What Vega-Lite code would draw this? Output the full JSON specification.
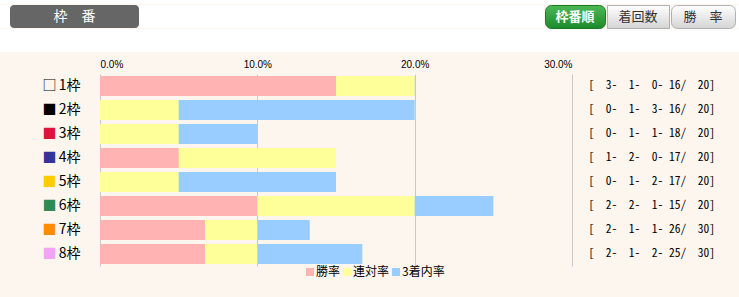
{
  "$schema": "https://vega.github.io/schema/vega-lite/v6.json",
  "background": "#fdf6ee",
  "padding": 0,
  "spacing": 7,
  "config": {"view": {"stroke": null}, "font": "Noto Sans CJK JP"},
  "datasets": {
    "one": [{"k": 1}],
    "frames": [
      {"frame": "1枠", "record": "[\u00a0\u00a03-\u00a0\u00a01-\u00a0\u00a00-\u00a016/\u00a0\u00a020]"},
      {"frame": "2枠", "record": "[\u00a0\u00a00-\u00a0\u00a01-\u00a0\u00a03-\u00a016/\u00a0\u00a020]"},
      {"frame": "3枠", "record": "[\u00a0\u00a00-\u00a0\u00a01-\u00a0\u00a01-\u00a018/\u00a0\u00a020]"},
      {"frame": "4枠", "record": "[\u00a0\u00a01-\u00a0\u00a02-\u00a0\u00a00-\u00a017/\u00a0\u00a020]"},
      {"frame": "5枠", "record": "[\u00a0\u00a00-\u00a0\u00a01-\u00a0\u00a02-\u00a017/\u00a0\u00a020]"},
      {"frame": "6枠", "record": "[\u00a0\u00a02-\u00a0\u00a02-\u00a0\u00a01-\u00a015/\u00a0\u00a020]"},
      {"frame": "7枠", "record": "[\u00a0\u00a02-\u00a0\u00a01-\u00a0\u00a01-\u00a026/\u00a0\u00a030]"},
      {"frame": "8枠", "record": "[\u00a0\u00a02-\u00a0\u00a01-\u00a0\u00a02-\u00a025/\u00a0\u00a030]"}
    ],
    "rates": [
      {"frame": "1枠", "type": "3着内率", "rate": 0.2},
      {"frame": "1枠", "type": "連対率", "rate": 0.2},
      {"frame": "1枠", "type": "勝率", "rate": 0.15},
      {"frame": "2枠", "type": "3着内率", "rate": 0.2},
      {"frame": "2枠", "type": "連対率", "rate": 0.05},
      {"frame": "2枠", "type": "勝率", "rate": 0},
      {"frame": "3枠", "type": "3着内率", "rate": 0.1},
      {"frame": "3枠", "type": "連対率", "rate": 0.05},
      {"frame": "3枠", "type": "勝率", "rate": 0},
      {"frame": "4枠", "type": "3着内率", "rate": 0.15},
      {"frame": "4枠", "type": "連対率", "rate": 0.15},
      {"frame": "4枠", "type": "勝率", "rate": 0.05},
      {"frame": "5枠", "type": "3着内率", "rate": 0.15},
      {"frame": "5枠", "type": "連対率", "rate": 0.05},
      {"frame": "5枠", "type": "勝率", "rate": 0},
      {"frame": "6枠", "type": "3着内率", "rate": 0.25},
      {"frame": "6枠", "type": "連対率", "rate": 0.2},
      {"frame": "6枠", "type": "勝率", "rate": 0.1},
      {"frame": "7枠", "type": "3着内率", "rate": 0.1333},
      {"frame": "7枠", "type": "連対率", "rate": 0.1},
      {"frame": "7枠", "type": "勝率", "rate": 0.0667},
      {"frame": "8枠", "type": "3着内率", "rate": 0.1667},
      {"frame": "8枠", "type": "連対率", "rate": 0.1},
      {"frame": "8枠", "type": "勝率", "rate": 0.0667}
    ]
  },
  "vconcat": [
    {
      "spacing": 0,
      "vconcat": [
        {"width": 739, "height": 4, "view": {"fill": "#ffffff"}, "data": {"name": "one"}, "mark": {"type": "text", "text": "", "fontSize": 1}, "encoding": {}},
        {
          "spacing": 0,
          "hconcat": [
            {"width": 10, "height": 23, "view": {"fill": "#ffffff"}, "data": {"name": "one"}, "mark": {"type": "text", "text": "", "fontSize": 1}, "encoding": {}},
            {"width": 129, "height": 23, "view": {"fill": "#666666", "cornerRadius": 4}, "data": {"name": "one"}, "mark": {"type": "text", "text": "枠　番", "color": "#ffffff", "fontSize": 14}, "encoding": {}},
            {"width": 405, "height": 23, "view": {"fill": "#ffffff"}, "data": {"name": "one"}, "mark": {"type": "text", "text": "", "fontSize": 1}, "encoding": {}},
            {"width": 60, "height": 23, "view": {"fill": {"gradient": "linear", "x1": 0, "y1": 0, "x2": 0, "y2": 1, "stops": [{"offset": 0, "color": "#4cb855"}, {"offset": 1, "color": "#1c8a2b"}]}, "cornerRadius": 6, "stroke": "#1a7a28"}, "data": {"name": "one"}, "mark": {"type": "text", "text": "枠番順", "color": "#ffffff", "fontSize": 13, "fontWeight": "bold"}, "encoding": {}},
            {"width": 62, "height": 23, "view": {"fill": {"gradient": "linear", "x1": 0, "y1": 0, "x2": 0, "y2": 1, "stops": [{"offset": 0, "color": "#ffffff"}, {"offset": 1, "color": "#d4d4d4"}]}, "stroke": "#b0b0b0"}, "data": {"name": "one"}, "mark": {"type": "text", "text": "着回数", "color": "#333333", "fontSize": 13}, "encoding": {}},
            {"width": 64, "height": 23, "view": {"fill": {"gradient": "linear", "x1": 0, "y1": 0, "x2": 0, "y2": 1, "stops": [{"offset": 0, "color": "#ffffff"}, {"offset": 1, "color": "#d4d4d4"}]}, "cornerRadius": 6, "stroke": "#b0b0b0"}, "data": {"name": "one"}, "mark": {"type": "text", "text": "勝　率", "color": "#333333", "fontSize": 13}, "encoding": {}},
            {"width": 9, "height": 23, "view": {"fill": "#ffffff"}, "data": {"name": "one"}, "mark": {"type": "text", "text": "", "fontSize": 1}, "encoding": {}}
          ]
        },
        {"width": 739, "height": 23, "view": {"fill": "#ffffff"}, "data": {"name": "one"}, "mark": {"type": "text", "text": "", "fontSize": 1}, "encoding": {}}
      ]
    },
    {
      "width": 739,
      "height": 192,
      "resolve": {"scale": {"y": "independent"}},
      "layer": [
        {
          "data": {"name": "rates"},
          "mark": {"type": "bar"},
          "encoding": {
            "y": {"field": "frame", "type": "nominal", "axis": null, "sort": null, "scale": {"type": "band", "paddingInner": 0.1667, "paddingOuter": 0.0833}},
            "x": {
              "field": "rate", "type": "quantitative", "stack": null,
              "scale": {"domain": [0, 0.3], "nice": false, "range": [100, 572]},
              "axis": {"orient": "top", "values": [0, 0.1, 0.2, 0.3], "format": ".1%", "grid": true, "gridColor": "#c8c8c8", "domain": false, "ticks": false, "labelFont": "Liberation Sans", "labelFontSize": 10, "labelColor": "#000000", "labelPadding": 5, "title": null}
            },
            "color": {
              "field": "type", "type": "nominal",
              "scale": {"domain": ["勝率", "連対率", "3着内率"], "range": ["#ffb3b3", "#ffff99", "#99ccff"]},
              "legend": {"orient": "none", "legendX": 304, "legendY": 266, "direction": "horizontal", "title": null, "symbolType": "square", "symbolSize": 64, "symbolStrokeWidth": 0, "symbolOpacity": 1, "labelFontSize": 12, "labelFont": "Noto Sans CJK JP", "labelColor": "#000000", "labelOffset": 0, "columnPadding": 0, "padding": 0}
            }
          }
        },
        {
          "data": {"name": "frames"},
          "mark": {"type": "text", "text": ""},
          "encoding": {
            "x": {"datum": 0, "type": "quantitative"},
            "y": {
              "field": "frame", "type": "nominal", "sort": null,
              "scale": {"type": "band", "paddingInner": 0.1667, "paddingOuter": 0.0833},
              "axis": {"orient": "left", "offset": -100, "domain": false, "ticks": false, "labelPadding": 20, "labelFontSize": 14, "labelFont": "Noto Sans CJK JP", "labelColor": "#000000", "title": null}
            }
          }
        },
        {
          "data": {"name": "frames"},
          "mark": {"type": "text", "text": ""},
          "encoding": {
            "x": {"datum": 0, "type": "quantitative"},
            "y": {
              "field": "frame", "type": "nominal", "sort": null,
              "scale": {"type": "band", "paddingInner": 0.1667, "paddingOuter": 0.0833},
              "axis": {
                "orient": "left", "offset": -56, "domain": false, "ticks": false, "labelPadding": 0, "labelFontSize": 14, "labelFont": "Noto Sans CJK JP", "title": null,
                "labelExpr": "datum.value === '1枠' ? '□' : '■'",
                "labelColor": {
                  "condition": [
                    {"test": "datum.value === '3枠'", "value": "#dc143c"},
                    {"test": "datum.value === '4枠'", "value": "#333399"},
                    {"test": "datum.value === '5枠'", "value": "#ffcc00"},
                    {"test": "datum.value === '6枠'", "value": "#2e8b57"},
                    {"test": "datum.value === '7枠'", "value": "#ff8c00"},
                    {"test": "datum.value === '8枠'", "value": "#f4a4f4"}
                  ],
                  "value": "#000000"
                }
              }
            }
          }
        },
        {
          "data": {"name": "frames"},
          "mark": {"type": "text", "text": ""},
          "encoding": {
            "x": {"datum": 0, "type": "quantitative"},
            "y": {
              "field": "record", "type": "nominal", "sort": null,
              "scale": {"type": "band", "paddingInner": 0.1667, "paddingOuter": 0.0833},
              "axis": {"orient": "right", "offset": -151, "domain": false, "ticks": false, "labelPadding": 0, "labelFontSize": 11.5, "labelFont": "Noto Sans Mono CJK JP, DejaVu Sans Mono, monospace", "labelColor": "#000000", "labelLimit": 300, "title": null}
            }
          }
        }
      ]
    },
    {"width": 739, "height": 25, "data": {"name": "one"}, "mark": {"type": "text", "text": "", "fontSize": 1}, "encoding": {}}
  ]
}
